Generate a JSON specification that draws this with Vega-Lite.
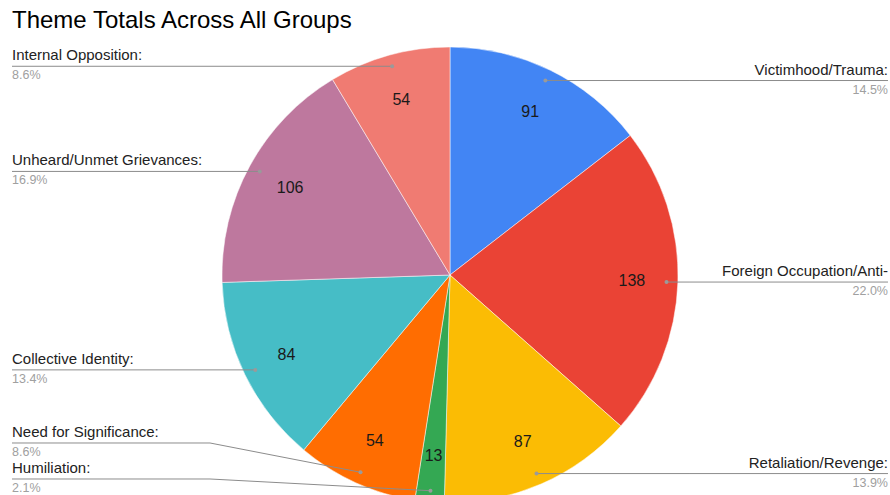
{
  "$schema": "https://vega.github.io/schema/vega-lite/v6.json",
  "autosize": {"type": "none"},
  "padding": {"left": 10, "top": 55, "right": 0, "bottom": 0},
  "width": 880,
  "height": 440,
  "background": "#ffffff",
  "config": {"view": {"stroke": null}, "font": "Liberation Sans"},
  "title": {
    "text": "Theme Totals Across All Groups",
    "anchor": "start",
    "frame": "group",
    "font": "Liberation Sans",
    "fontSize": 24,
    "fontWeight": "normal",
    "color": "#000000",
    "baseline": "alphabetic",
    "offset": -6,
    "dx": 2
  },
  "data": {
    "values": [
      {"theme": "Victimhood/Trauma", "label": "Victimhood/Trauma:", "value": 91},
      {"theme": "Foreign Occupation/Anti-", "label": "Foreign Occupation/Anti-", "value": 138},
      {"theme": "Retaliation/Revenge", "label": "Retaliation/Revenge:", "value": 87},
      {"theme": "Humiliation", "label": "Humiliation:", "value": 13},
      {"theme": "Need for Significance", "label": "Need for Significance:", "value": 54},
      {"theme": "Collective Identity", "label": "Collective Identity:", "value": 84},
      {"theme": "Unheard/Unmet Grievances", "label": "Unheard/Unmet Grievances:", "value": 106},
      {"theme": "Internal Opposition", "label": "Internal Opposition:", "value": 54}
    ]
  },
  "transform": [
    {"window": [{"op": "row_number", "as": "idx"}]},
    {"joinaggregate": [{"op": "sum", "field": "value", "as": "total"}]},
    {"window": [{"op": "sum", "field": "value", "as": "cum"}], "sort": [{"field": "idx"}], "frame": [null, 0]},
    {"calculate": "2*PI*(datum.cum - datum.value/2)/datum.total", "as": "mid"},
    {"calculate": "datum.value/datum.total", "as": "pct"},
    {"calculate": "0.95*sin(datum.mid)", "as": "px"},
    {"calculate": "0.95*cos(datum.mid)", "as": "py"},
    {"calculate": "datum.px < 0 ? 'left' : 'right'", "as": "side"},
    {"window": [{"op": "row_number", "as": "vrank"}], "groupby": ["side"], "sort": [{"field": "py", "order": "ascending"}]},
    {"calculate": "max(datum.py, -0.8947 + 0.1579*(datum.vrank-1))", "as": "ly"},
    {"calculate": "datum.px < 0 ? -1.921 : 1.921", "as": "ex"},
    {"calculate": "datum.px < 0 ? -1.0526 : 1.0526", "as": "kx"}
  ],
  "layer": [
    {
      "mark": {"type": "arc", "outerRadius": 228, "stroke": "#ffffff", "strokeWidth": 0.5},
      "encoding": {
        "theta": {"field": "value", "type": "quantitative", "stack": true},
        "order": {"field": "idx", "type": "quantitative"},
        "color": {
          "field": "theme",
          "type": "nominal",
          "legend": null,
          "scale": {
            "domain": ["Victimhood/Trauma", "Foreign Occupation/Anti-", "Retaliation/Revenge", "Humiliation", "Need for Significance", "Collective Identity", "Unheard/Unmet Grievances", "Internal Opposition"],
            "range": ["#4285F4", "#EA4335", "#FBBC04", "#34A853", "#FF6D01", "#46BDC6", "#BE789E", "#F07B72"]
          }
        }
      }
    },
    {
      "mark": {"type": "text", "radius": 182, "fontSize": 16, "color": "#1a1a1a", "font": "Liberation Sans"},
      "encoding": {
        "theta": {"field": "value", "type": "quantitative", "stack": true},
        "order": {"field": "idx", "type": "quantitative"},
        "text": {"field": "value", "type": "quantitative"}
      }
    },
    {
      "mark": {"type": "rule", "color": "#8c8c8c", "strokeWidth": 1},
      "encoding": {
        "x": {"field": "ex", "type": "quantitative", "axis": null, "scale": {"domain": [-1.92982, 1.92982], "nice": false, "zero": false}},
        "x2": {"field": "kx"},
        "y": {"field": "ly", "type": "quantitative", "axis": null, "scale": {"domain": [-0.96491, 0.96491], "nice": false, "zero": false}}
      }
    },
    {
      "mark": {"type": "rule", "color": "#8c8c8c", "strokeWidth": 1},
      "encoding": {
        "x": {"field": "kx", "type": "quantitative"},
        "x2": {"field": "px"},
        "y": {"field": "ly", "type": "quantitative"},
        "y2": {"field": "py"}
      }
    },
    {
      "mark": {"type": "point", "filled": true, "size": 16, "color": "#9a9a9a", "opacity": 1},
      "encoding": {
        "x": {"field": "px", "type": "quantitative"},
        "y": {"field": "py", "type": "quantitative"}
      }
    },
    {
      "transform": [{"filter": "datum.side == 'left'"}],
      "mark": {"type": "text", "align": "left", "baseline": "alphabetic", "dy": -6, "fontSize": 15, "color": "#222222", "font": "Liberation Sans"},
      "encoding": {
        "x": {"field": "ex", "type": "quantitative"},
        "y": {"field": "ly", "type": "quantitative"},
        "text": {"field": "label", "type": "nominal"}
      }
    },
    {
      "transform": [{"filter": "datum.side == 'left'"}],
      "mark": {"type": "text", "align": "left", "baseline": "alphabetic", "dy": 13, "fontSize": 12.5, "color": "#a0a0a0", "font": "Liberation Sans"},
      "encoding": {
        "x": {"field": "ex", "type": "quantitative"},
        "y": {"field": "ly", "type": "quantitative"},
        "text": {"field": "pct", "type": "quantitative", "format": ".1%"}
      }
    },
    {
      "transform": [{"filter": "datum.side == 'right'"}],
      "mark": {"type": "text", "align": "right", "baseline": "alphabetic", "dy": -6, "fontSize": 15, "color": "#222222", "font": "Liberation Sans"},
      "encoding": {
        "x": {"field": "ex", "type": "quantitative"},
        "y": {"field": "ly", "type": "quantitative"},
        "text": {"field": "label", "type": "nominal"}
      }
    },
    {
      "transform": [{"filter": "datum.side == 'right'"}],
      "mark": {"type": "text", "align": "right", "baseline": "alphabetic", "dy": 13, "fontSize": 12.5, "color": "#a0a0a0", "font": "Liberation Sans"},
      "encoding": {
        "x": {"field": "ex", "type": "quantitative"},
        "y": {"field": "ly", "type": "quantitative"},
        "text": {"field": "pct", "type": "quantitative", "format": ".1%"}
      }
    }
  ]
}
